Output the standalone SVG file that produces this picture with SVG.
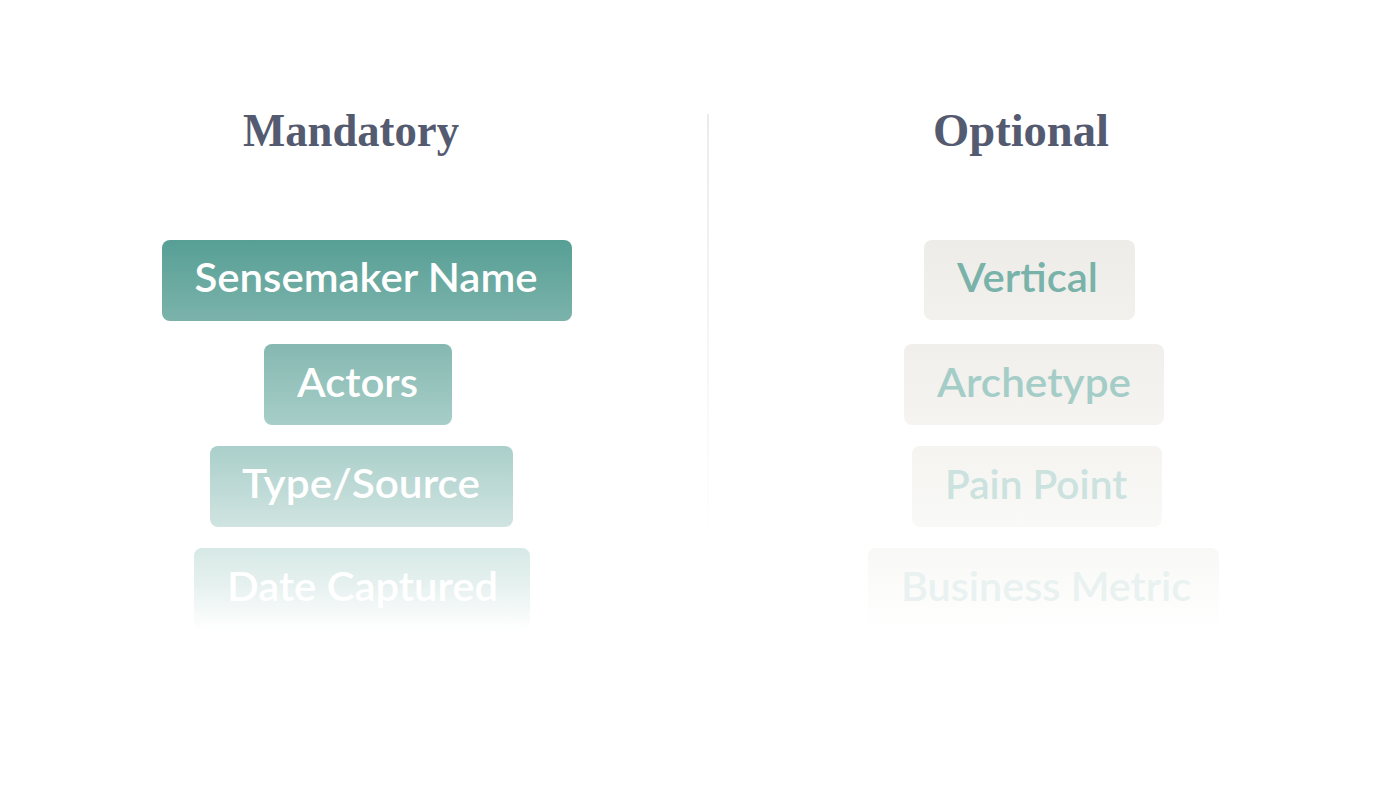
<svg xmlns="http://www.w3.org/2000/svg" width="1374" height="800" viewBox="0 0 1374 800">
<defs>
<style>
.title{font-family:"Liberation Serif","DejaVu Serif",serif;font-weight:bold;font-size:46px;fill:#545a70;text-anchor:middle}
.lbl{font-family:Lato,"Noto Sans","Liberation Sans",sans-serif;font-weight:600;font-size:40px;text-anchor:middle}
.w{fill:#ffffff}
</style>
<linearGradient id="g1" x1="0" y1="0" x2="0" y2="1"><stop offset="0" stop-color="#579f95"/><stop offset="1" stop-color="#7bb3ab"/></linearGradient>
<linearGradient id="g2" x1="0" y1="0" x2="0" y2="1"><stop offset="0" stop-color="#85b8b1"/><stop offset="1" stop-color="#a7cec8"/></linearGradient>
<linearGradient id="g3" x1="0" y1="0" x2="0" y2="1"><stop offset="0" stop-color="#aacfca"/><stop offset="1" stop-color="#d0e4e1"/></linearGradient>
<linearGradient id="g4" x1="0" y1="0" x2="0" y2="1"><stop offset="0" stop-color="#d6e9e6"/><stop offset="0.45" stop-color="#e6f1ef"/><stop offset="1" stop-color="#ffffff"/></linearGradient>
<linearGradient id="h1" x1="0" y1="0" x2="0" y2="1"><stop offset="0" stop-color="#edece8"/><stop offset="1" stop-color="#f2f1ee"/></linearGradient>
<linearGradient id="h2" x1="0" y1="0" x2="0" y2="1"><stop offset="0" stop-color="#f0efeb"/><stop offset="1" stop-color="#f5f4f1"/></linearGradient>
<linearGradient id="h3" x1="0" y1="0" x2="0" y2="1"><stop offset="0" stop-color="#f5f4f1"/><stop offset="1" stop-color="#f9f9f7"/></linearGradient>
<linearGradient id="h4" x1="0" y1="0" x2="0" y2="1"><stop offset="0" stop-color="#f8f8f6"/><stop offset="1" stop-color="#ffffff"/></linearGradient>
<linearGradient id="dv" x1="0" y1="0" x2="0" y2="1"><stop offset="0" stop-color="#ecebe7"/><stop offset="1" stop-color="#ffffff"/></linearGradient>
</defs>
<rect width="1374" height="800" fill="#ffffff"/>
<g id="divider"><rect x="707" y="114" width="2" height="430" fill="url(#dv)"/></g>
<g id="title-mandatory"><text class="title" x="351" y="146" textLength="216" lengthAdjust="spacingAndGlyphs">Mandatory</text></g>
<g id="title-optional"><text class="title" x="1021" y="146" textLength="176" lengthAdjust="spacingAndGlyphs">Optional</text></g>
<g id="sensemaker-name"><rect x="162" y="240" width="410" height="81" rx="8" fill="url(#g1)"/><text class="lbl w" x="366" y="292" textLength="343" lengthAdjust="spacingAndGlyphs">Sensemaker Name</text></g>
<g id="actors"><rect x="264" y="344" width="188" height="81" rx="8" fill="url(#g2)"/><text class="lbl w" x="357.5" y="397" textLength="121" lengthAdjust="spacingAndGlyphs">Actors</text></g>
<g id="type-source"><rect x="210" y="446" width="303" height="81" rx="8" fill="url(#g3)"/><text class="lbl w" x="361" y="498" textLength="238" lengthAdjust="spacingAndGlyphs">Type/Source</text></g>
<g id="date-captured"><rect x="194" y="548" width="336" height="82" rx="8" fill="url(#g4)"/><text class="lbl w" x="362.5" y="601" textLength="271" lengthAdjust="spacingAndGlyphs">Date Captured</text></g>
<g id="connectors"></g>
<g id="vertical"><rect x="924" y="240" width="211" height="80" rx="8" fill="url(#h1)"/><text class="lbl" x="1027.5" y="292" fill="#78b2a9" textLength="141" lengthAdjust="spacingAndGlyphs">Vertical</text></g>
<g id="archetype"><rect x="904" y="344" width="260" height="81" rx="8" fill="url(#h2)"/><text class="lbl" x="1034" y="397" fill="#a5cdc7" textLength="194" lengthAdjust="spacingAndGlyphs">Archetype</text></g>
<g id="pain-point"><rect x="912" y="446" width="250" height="81" rx="8" fill="url(#h3)"/><text class="lbl" x="1036" y="499" fill="#cbe2de" textLength="182" lengthAdjust="spacingAndGlyphs">Pain Point</text></g>
<g id="business-metric"><rect x="868" y="548" width="351" height="82" rx="8" fill="url(#h4)"/><text class="lbl" x="1046" y="601" fill="#e9f2f1" textLength="290" lengthAdjust="spacingAndGlyphs">Business Metric</text></g>
</svg>
